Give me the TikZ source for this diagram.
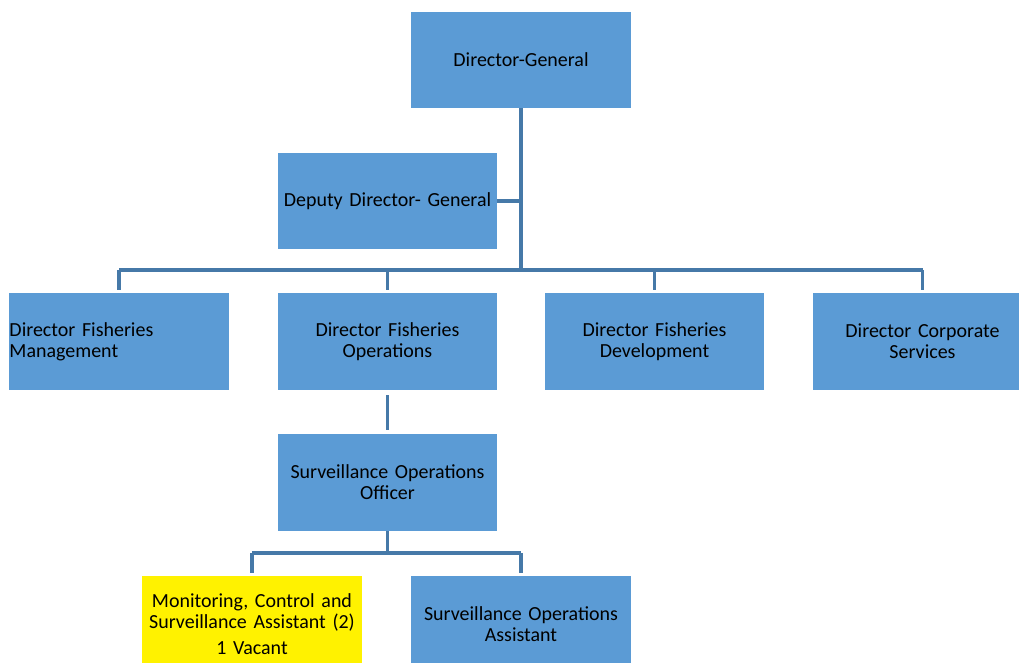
\documentclass[tikz,border=0pt]{standalone}
\usepackage{fontspec}
\setmainfont{Carlito}
\usetikzlibrary{positioning}
\definecolor{postblue}{HTML}{5B9BD5}
\definecolor{linkblue}{HTML}{4679A8}
\tikzset{post/.style={fill=postblue,draw=none,inner sep=0pt,
                      minimum width=5.475cm,minimum height=2.4cm,
                      text width=5.475cm,align=center,
                      font=\fontsize{14.2}{15}\selectfont},
         vacant/.style={post,fill=yellow},
         link/.style={draw=linkblue,line width=2.8pt},
         x=0.025cm,y=-0.025cm}
\begin{document}
\begin{tikzpicture}
\useasboundingbox (0,0) rectangle (1019,663);
\node[post] (dg)  at (521,60)    {Director-General};
\node[post] (ddg) at (387.5,201) {Deputy Director- General};
\node[post,align=left] (fm) at (119,341.5) {Director Fisheries\\Management};
\node[post] (fo)  at (387.5,341.5) {Director Fisheries\\Operations};
\node[post] (fd)  at (654.5,341.5) {Director Fisheries\\Development};
\node[post] (cs)  at (922.5,341.5) {Director Corporate\\Services};
\node[post] (soo) at (387.5,482.5) {Surveillance Operations\\Officer};
\node[vacant] (mcs) at (252,624) {Monitoring, Control and\\Surveillance Assistant (2)\\[3pt]1 Vacant};
\node[post] (soa) at (521,624)   {Surveillance Operations\\Assistant};
\coordinate (bus)  at (520,270);
\coordinate (bus2) at (387,553);
% links
\draw[link] (dg.south) -- (dg.south |- bus);
\draw[link] (ddg.east) -- (ddg.east -| dg.south);
\draw[link] (fm.north |- bus) -- (cs.north |- bus);
\foreach \n in {fm,fo,fd,cs}
  \draw[link,shorten >=2pt] (\n.north |- bus) -- (\n.north);
\draw[link,shorten <=4pt,shorten >=3pt] (fo.south) -- (soo.north);
\draw[link] (soo.south) -- (soo.south |- bus2);
\draw[link] (mcs.north |- bus2) -- (soa.north |- bus2);
\foreach \n in {mcs,soa}
  \draw[link,shorten >=2pt] (\n.north |- bus2) -- (\n.north);
\end{tikzpicture}
\end{document}
